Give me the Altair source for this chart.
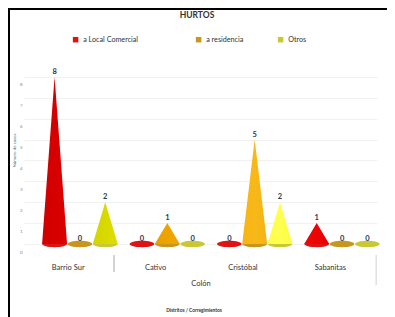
import json
import altair as alt
import pandas as pd

# ---------------- data ----------------
TITLE = "HURTOS"
DISTRITOS = ["Barrio Sur", "Cativo", "Cristóbal", "Sabanitas"]
GRUPO = "Colón"
SERIES = ["a Local Comercial", "a residencia", "Otros"]
LOCAL_COMERCIAL = [8, 0, 0, 1]
RESIDENCIA = [0, 1, 5, 0]
OTROS = [2, 0, 2, 0]
Y_TICKS = [0, 1, 2, 3, 4, 5, 6, 7, 8]
Y_TITLE = "Número de casos"
X_TITLE = "Distritos / Corregimientos"

# ---------------- style / layout ----------------
FONT = "Lato"
LEGEND_COLORS = ["#E0102A", "#D6A220", "#E4E444"]
DISC_COLORS = ["#E01212", "#C8961C", "#C8C836"]
GRADIENTS = [
    ["#D00000", "#FF0000", "#FF2424", "#E80000"],
    ["#C48800", "#EEA400", "#F8B818", "#DC9800"],
    ["#D4D400", "#FAFA00", "#FFFF50", "#E4E400"],
]
SERIES_OFFSET = [-0.29, 0.0, 0.29]
HALF_WIDTH = 0.143
LABEL_SHIFT = -0.14
SEP_SHIFT = -0.11
LEGEND_PAD = "\u00a0" * 13 + "\u200b"

values = [LOCAL_COMERCIAL, RESIDENCIA, OTROS]

cone_rows, top_rows = [], []
for s, (name, vals) in enumerate(zip(SERIES, values)):
    for i, v in enumerate(vals):
        cx = i + SERIES_OFFSET[s]
        cid = f"{s}-{i}"
        cone_rows += [
            {"cone": cid, "serie": name, "x": cx - HALF_WIDTH, "y": 0},
            {"cone": cid, "serie": name, "x": cx, "y": v},
            {"cone": cid, "serie": name, "x": cx + HALF_WIDTH, "y": 0},
        ]
        top_rows.append({"serie": name, "distrito": DISTRITOS[i], "x": cx, "y": v, "base": 0})

cones = pd.DataFrame(cone_rows)
tops = pd.DataFrame(top_rows)

x_scale = alt.Scale(domain=[-0.64, 3.40], nice=False, zero=False)
y_scale = alt.Scale(domain=[0, 9], nice=False)

label_expr = f"{json.dumps(DISTRITOS)}[round(datum.value - ({LABEL_SHIFT}))]"

x_axis = alt.Axis(
    values=[i + LABEL_SHIFT for i in range(len(DISTRITOS))],
    labelExpr=label_expr,
    labelFont=FONT, labelFontSize=7.5, labelColor="#333333",
    labelPadding=19, labelOverlap=False, labelFlush=False,
    domain=False, ticks=False, grid=False,
    title=GRUPO, titleFont=FONT, titleFontSize=7.5,
    titleFontWeight="normal", titleColor="#333333", titlePadding=9,
)
y_axis = alt.Axis(
    values=Y_TICKS, labelFont=FONT, labelFontSize=4.5, labelColor="#888888",
    labelOffset=8, labelPadding=2, domain=False, ticks=False,
    grid=True, gridColor="#EDEDED", gridWidth=0.8,
    title=Y_TITLE, titleFont=FONT, titleFontSize=4.5,
    titleFontWeight="normal", titleColor="#666666", titlePadding=3,
)
x_enc = alt.X("x:Q", scale=x_scale, axis=x_axis)
y_enc = alt.Y("y:Q", scale=y_scale, axis=y_axis)

ELLIPSE = "M-1,0A1,0.26,0,1,0,1,0A1,0.26,0,1,0,-1,0Z"

# legend (from color scale), drawn by an invisible layer
legend_layer = (
    alt.Chart(tops)
    .mark_point(opacity=0, size=1)
    .encode(
        x=x_enc,
        y=y_enc,
        color=alt.Color(
            "serie:N",
            scale=alt.Scale(domain=SERIES, range=LEGEND_COLORS),
            legend=alt.Legend(
                title=None, orient="none", direction="horizontal",
                legendX=48, legendY=-20, symbolType="square", symbolSize=30,
                symbolStrokeWidth=0, symbolOpacity=1, labelFont=FONT, labelFontSize=7.2,
                labelColor="#333333", labelOffset=4, columnPadding=33,
                padding=0, labelLimit=300,
                labelExpr="datum.label == '" + SERIES[0] + "' ? datum.label + '" + LEGEND_PAD + "' : datum.label",
            ),
        ),
    )
)

discs = (
    alt.Chart(tops)
    .mark_point(shape=ELLIPSE, filled=True, size=600, opacity=1, strokeWidth=0)
    .encode(
        x=x_enc,
        y=alt.Y("base:Q", scale=y_scale, axis=y_axis),
        fill=alt.Fill("serie:N", scale=alt.Scale(domain=SERIES, range=DISC_COLORS), legend=None),
    )
)

cone_layers = []
for s, name in enumerate(SERIES):
    stops = GRADIENTS[s]
    grad = alt.Gradient(
        gradient="linear",
        stops=[
            alt.GradientStop(color=stops[0], offset=0),
            alt.GradientStop(color=stops[1], offset=0.35),
            alt.GradientStop(color=stops[2], offset=0.65),
            alt.GradientStop(color=stops[3], offset=1),
        ],
        x1=0, x2=1, y1=0, y2=0,
    )
    cone_layers.append(
        alt.Chart(cones[cones["serie"] == name])
        .mark_area(color=grad, line=False)
        .encode(x=x_enc, y=y_enc, detail="cone:N")
    )

labels = (
    alt.Chart(tops)
    .mark_text(font=FONT, fontSize=7.5, fontWeight="bold", color="#2B3550", dy=-5, baseline="middle")
    .encode(x=x_enc, y=y_enc, text="y:Q")
)

sep_left = (
    alt.Chart(pd.DataFrame({"x": [0.5 + SEP_SHIFT]}))
    .mark_rule(color="#AAAAAA", strokeWidth=1)
    .encode(x=x_enc, y=alt.value(199), y2=alt.value(216))
)
sep_right = (
    alt.Chart(pd.DataFrame({"x": [len(DISTRITOS) - 0.5 + SEP_SHIFT]}))
    .mark_rule(color="#D0D0D0", strokeWidth=1)
    .encode(x=x_enc, y=alt.value(199), y2=alt.value(229))
)

one = alt.Data(values=[{}])
frame_top = alt.Chart(one).mark_rule(color="#000000", strokeWidth=2).encode(
    x=alt.value(-16), x2=alt.value(363), y=alt.value(-47)
)
frame_left = alt.Chart(one).mark_rule(color="#000000", strokeWidth=2).encode(
    x=alt.value(-15), y=alt.value(-48), y2=alt.value(261)
)
title_txt = alt.Chart(one).mark_text(
    font=FONT, fontSize=8.5, fontWeight="bold", color="#333333", baseline="middle"
).encode(x=alt.value(173), y=alt.value(-41), text=alt.value(TITLE))
x_title = alt.Chart(one).mark_text(
    font=FONT, fontSize=4.8, fontWeight="bold", color="#333333", baseline="middle"
).encode(x=alt.value(170), y=alt.value(255), text=alt.value(X_TITLE))

chart = (
    alt.layer(legend_layer, discs, *cone_layers, labels, sep_left, sep_right,
              frame_top, frame_left, title_txt, x_title)
    .properties(
        width=353,
        height=188,
        padding={"left": 16, "top": 48, "right": 10, "bottom": 73},
        autosize=alt.AutoSizeParams(type="none"),
        background="white",
    )
    .configure_view(stroke=None)
)

chart.save("out.html", embed_options={"renderer": "svg", "actions": False})
